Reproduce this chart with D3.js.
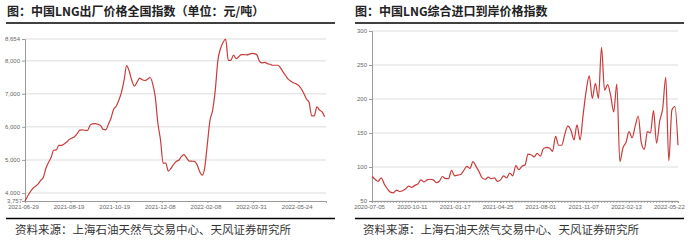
<!DOCTYPE html>
<html>
<head>
<meta charset="utf-8">
<script src="https://cdn.jsdelivr.net/npm/d3@7"></script>
<style>
  body { margin: 0; background: #fff; }
  text { font-family: "Liberation Sans", "Noto Sans", sans-serif; }
  .cjk { font-family: "Noto Sans CJK SC", sans-serif; }
</style>
</head>
<body>
<div id="wrapper"></div>
<script>
// left: LNG ex-factory national index, one value every 2 trading days
const leftTickLabels = ["2021-06-29", "2021-08-19", "2021-10-19", "2021-12-08", "2022-02-08", "2022-03-31", "2022-05-24"];
const leftYTicks = [3757, 4000, 5000, 6000, 7000, 8000, 8654];
const leftValues = [
  3757, 3900, 4030, 4140, 4200, 4265, 4380, 4465, 4740, 4920,
  5070, 5290, 5300, 5440, 5440, 5480, 5540, 5620, 5660, 5700,
  5790, 5900, 5910, 5895, 5890, 6050, 6090, 6095, 6075, 6040,
  5920, 5910, 6080, 6260, 6525, 6620, 6800, 7040, 7400, 7850,
  7680, 7400, 7230, 7350, 7470, 7420, 7400, 7440, 7490, 7300,
  6895, 6100, 5600, 4900, 4905, 4660, 4740, 4860, 4950, 4990,
  5100, 5160, 5060, 4965, 4960, 4955, 4860, 4650, 4540, 4780,
  5500, 6200, 6500, 7100, 8000, 8360, 8550, 8654, 8010, 8010,
  8170, 8060, 8120, 8180, 8180, 8175, 8190, 8220, 8210, 8170,
  7980, 7930, 7950, 7910, 7890, 7860, 7860, 7860, 7790, 7660,
  7550, 7440, 7380, 7330, 7300, 7250, 7150, 7005, 6840, 6740,
  6330, 6330, 6600, 6510, 6450, 6300
];

// right: LNG import landed price index, weekly from 2020-07-05
const rightStart = "2020-07-05";
const rightTickLabels = ["2020-07-05", "2020-10-11", "2021-01-17", "2021-04-25", "2021-08-01", "2021-11-07", "2022-02-13", "2022-05-22"];
const rightYTicks = [50, 100, 150, 200, 250, 300];
const rightValues = [
  86, 82, 79, 84, 75, 68, 63, 62, 66, 64,
  65, 68, 72, 70, 73, 75, 81, 78, 81, 82,
  81, 77, 79, 86, 83, 83, 95, 87, 88, 89,
  95, 101, 98, 108, 101, 93, 84, 82, 85, 83,
  84, 79, 81, 87, 84, 91, 87, 102, 96, 101,
  103, 119, 118, 115, 120, 116, 127, 129, 128, 123,
  145, 132, 132, 148, 160, 154, 140, 162, 140, 177,
  212, 234, 201, 223, 201, 276, 213, 221, 205, 181,
  222, 108, 128, 136, 152, 143, 160, 175, 136, 126,
  152, 150, 183, 135, 167, 186, 232, 109, 184, 189,
  132
];

const titles = ["图：中国LNG出厂价格全国指数（单位：元/吨）", "图：中国LNG综合进口到岸价格指数"];
const source = "资料来源：上海石油天然气交易中心、天风证券研究所";

const lineColor = "#c93b3b";
const gridColor = "#e8e8e8";
const axisColor = "#9a9a9a";
const labelColor = "#666";

const svg = d3.select("#wrapper").append("svg")
  .attr("width", 692)
  .attr("height", 240);

function frame(x0, x1, lineX0, lineX1, title) {
  svg.append("text")
    .attr("class", "cjk")
    .attr("x", x0)
    .attr("y", 16)
    .attr("font-size", 12)
    .attr("font-weight", "bold")
    .attr("fill", "#222")
    .text(title);
  svg.append("line")
    .attr("x1", lineX0).attr("x2", lineX1)
    .attr("y1", 23).attr("y2", 23)
    .attr("stroke", "#000").attr("stroke-width", 1.3);
  svg.append("line")
    .attr("x1", lineX0).attr("x2", lineX1)
    .attr("y1", 218.5).attr("y2", 218.5)
    .attr("stroke", "#000").attr("stroke-width", 1.3);
  svg.append("text")
    .attr("class", "cjk")
    .attr("x", x1)
    .attr("y", 234)
    .attr("font-size", 11.5)
    .attr("fill", "#333")
    .text(source);
}

function yAxis(g, y, ticks, x0, x1, fmt) {
  g.selectAll(".grid")
    .data(ticks)
    .enter()
    .append("line")
    .attr("x1", x0).attr("x2", x1)
    .attr("y1", d => y(d)).attr("y2", d => y(d))
    .attr("stroke", gridColor)
    .attr("stroke-width", 1.5);
  const ax = g.append("g")
    .attr("transform", `translate(${x0},0)`)
    .call(d3.axisLeft(y).tickValues(ticks).tickSize(3).tickPadding(2).tickFormat(fmt));
  ax.select(".domain").attr("stroke", axisColor);
  ax.selectAll(".tick line").attr("stroke", axisColor);
  ax.selectAll(".tick text").attr("fill", labelColor).attr("font-size", 6);
}

// ---------- left chart ----------
frame(7, 15, 6, 335, titles[0]);
const left = svg.append("g");
const xL = d3.scaleLinear().domain([0, 231]).range([25, 326]);
const yL = d3.scaleLinear().domain([3757, 8654]).range([201, 39]);

yAxis(left, yL, leftYTicks.slice(1), 25, 326, d3.format(","));
left.append("text")
  .attr("x", 22).attr("y", yL(3757) + 2)
  .attr("text-anchor", "end")
  .attr("font-size", 6).attr("fill", labelColor)
  .text(d3.format(",")(3757));

const leftTickDays = leftTickLabels.map((d, i) => i * 35);
const axL = left.append("g")
  .attr("transform", `translate(0,${yL(3757)})`)
  .call(d3.axisBottom(xL).tickValues(leftTickDays).tickSize(2).tickPadding(2)
    .tickFormat((d, i) => leftTickLabels[i]));
axL.select(".domain").attr("stroke", axisColor);
axL.selectAll(".tick line").attr("stroke", axisColor);
axL.selectAll(".tick text").attr("fill", labelColor).attr("font-size", 6).attr("dx", -2);

left.append("path")
  .datum(leftValues)
  .attr("fill", "none")
  .attr("stroke", lineColor)
  .attr("stroke-width", 1.2)
  .attr("stroke-linejoin", "round")
  .attr("d", d3.line().x((d, i) => xL(i * 2)).y(d => yL(d)).curve(d3.curveMonotoneX));

// ---------- right chart ----------
frame(355, 363, 355, 684, titles[1]);
const right = svg.append("g");
const parse = d3.timeParse("%Y-%m-%d");
const start = parse(rightStart);
const rightDates = rightValues.map((d, i) => d3.timeDay.offset(start, i * 7));
const xR = d3.scaleTime().domain([rightDates[0], rightDates[rightDates.length - 1]]).range([372, 678]);
const yR = d3.scaleLinear().domain([50, 300]).range([201, 31]);

yAxis(right, yR, rightYTicks, 372, 678, d3.format("d"));

// weekly minor ticks
right.selectAll(".minor")
  .data(rightDates)
  .enter()
  .append("line")
  .attr("x1", d => xR(d)).attr("x2", d => xR(d))
  .attr("y1", yR(50)).attr("y2", yR(50) + 2)
  .attr("stroke", axisColor)
  .attr("stroke-width", 0.8);

const axR = right.append("g")
  .attr("transform", `translate(0,${yR(50)})`)
  .call(d3.axisBottom(xR).tickValues(rightTickLabels.map(parse)).tickSize(2).tickPadding(2)
    .tickFormat(d3.timeFormat("%Y-%m-%d")));
axR.select(".domain").attr("stroke", axisColor);
axR.selectAll(".tick line").attr("stroke", axisColor);
axR.selectAll(".tick text").attr("fill", labelColor).attr("font-size", 6).attr("dx", -3);

right.append("path")
  .datum(rightValues)
  .attr("fill", "none")
  .attr("stroke", lineColor)
  .attr("stroke-width", 1.2)
  .attr("stroke-linejoin", "round")
  .attr("d", d3.line().x((d, i) => xR(rightDates[i])).y(d => yR(d)).curve(d3.curveMonotoneX));
</script>
</body>
</html>
